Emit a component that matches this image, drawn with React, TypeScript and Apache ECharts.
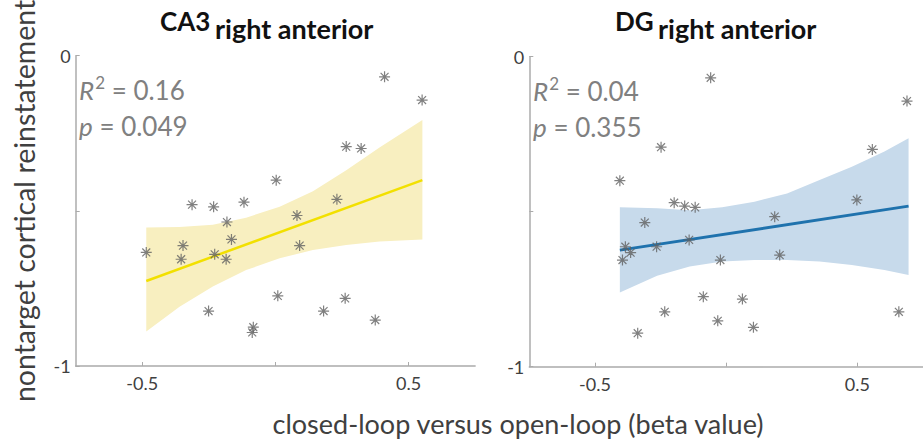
import React, { useEffect, useRef } from "react";
import * as echarts from "echarts";

// ---- data ----
const ca3X = [0.41, 0.551, 0.266, 0.322, 0.003, 0.231, -0.313, -0.232, -0.118, 0.081, -0.182, -0.165, 0.091, -0.347, -0.485, -0.228, -0.354, -0.185, 0.009, 0.262, -0.251, 0.181, 0.375, -0.083, -0.087];
const ca3Y = [-0.068, -0.143, -0.293, -0.299, -0.401, -0.463, -0.48, -0.487, -0.472, -0.515, -0.536, -0.592, -0.612, -0.612, -0.634, -0.64, -0.656, -0.656, -0.774, -0.782, -0.823, -0.823, -0.852, -0.875, -0.892];
const ca3FitX = [-0.485, 0.552];
const ca3FitY = [-0.726, -0.401];
const ca3BandX = [-0.485, -0.36, -0.235, -0.11, 0.016, 0.141, 0.266, 0.391, 0.552];
const ca3Upper = [-0.554, -0.552, -0.545, -0.522, -0.487, -0.437, -0.369, -0.296, -0.207];
const ca3Lower = [-0.889, -0.809, -0.744, -0.691, -0.653, -0.626, -0.61, -0.599, -0.592];

const dgX = [-0.059, 0.689, -0.248, 0.557, -0.405, 0.498, -0.198, -0.158, -0.118, 0.185, -0.31, -0.141, -0.384, -0.265, -0.364, 0.204, -0.395, -0.022, -0.087, 0.062, -0.234, 0.658, -0.032, 0.104, -0.337];
const dgY = [-0.068, -0.143, -0.292, -0.299, -0.4, -0.462, -0.471, -0.482, -0.486, -0.516, -0.535, -0.591, -0.613, -0.613, -0.632, -0.64, -0.656, -0.656, -0.774, -0.782, -0.823, -0.823, -0.852, -0.873, -0.892];
const dgFitX = [-0.405, 0.695];
const dgFitY = [-0.624, -0.482];
const dgBandX = [-0.405, -0.263, -0.139, -0.015, 0.108, 0.232, 0.356, 0.479, 0.603, 0.695];
const dgUpper = [-0.486, -0.489, -0.495, -0.486, -0.468, -0.441, -0.398, -0.355, -0.306, -0.263];
const dgLower = [-0.761, -0.707, -0.677, -0.661, -0.656, -0.656, -0.661, -0.672, -0.688, -0.704];

const xTicks = [-0.5, 0, 0.5];
const xTickLabels = [-0.5, 0.5];
const yTicks = [-1, -0.5, 0];
const yTickLabels = [-1, 0];

const panelTitles = [
  { region: "CA3", rest: "right anterior" },
  { region: "DG", rest: "right anterior" },
];
const stats = [
  { r2: "0.16", p: "0.049" },
  { r2: "0.04", p: "0.355" },
];
const yAxisTitle = "nontarget cortical reinstatement";
const xAxisTitle = "closed-loop versus open-loop (beta value)";

const FONT = "Lato";
const ASTERISK = "path://M0,-5L0,5M-5,0L5,0M-3.6,-3.6L3.6,3.6M-3.6,3.6L3.6,-3.6";

function bandSeries(idx: number, bx: number[], up: number[], lo: number[], fill: string) {
  const data = bx.map((x, i) => [x, up[i], lo[i]]);
  return {
    type: "custom",
    xAxisIndex: idx,
    yAxisIndex: idx,
    z: 1,
    silent: true,
    encode: { x: 0, y: [1, 2] },
    data,
    renderItem: (params: any, api: any) => {
      if (params.dataIndex !== 0) return null;
      const top = data.map((d) => api.coord([d[0], d[1]]));
      const bot = data.map((d) => api.coord([d[0], d[2]])).reverse();
      return {
        type: "polygon",
        shape: { points: top.concat(bot) },
        style: { fill, stroke: "none" },
      };
    },
  };
}

function fitSeries(idx: number, fx: number[], fy: number[], color: string, width: number) {
  return {
    type: "line",
    xAxisIndex: idx,
    yAxisIndex: idx,
    z: 2,
    symbol: "none",
    silent: true,
    data: fx.map((x, i) => [x, fy[i]]),
    lineStyle: { color, width },
  };
}

function scatterSeries(idx: number, xs: number[], ys: number[]) {
  return {
    type: "scatter",
    xAxisIndex: idx,
    yAxisIndex: idx,
    z: 3,
    symbol: ASTERISK,
    symbolSize: 11,
    data: xs.map((x, i) => [x, ys[i]]),
    itemStyle: { color: "rgba(0,0,0,0)", borderColor: "#606060", borderWidth: 1.2 },
  };
}

const axisLineStyle = { color: "#ababab", width: 1.5 };

function makeX(idx: number) {
  return {
    type: "value",
    gridIndex: idx,
    min: -0.75,
    max: 0.75,
    axisLine: { show: true, onZero: false, lineStyle: axisLineStyle },
    axisTick: { show: true, inside: true, length: 4, customValues: xTicks, lineStyle: { color: "#ababab", width: 1 } },
    axisLabel: { customValues: xTickLabels, fontSize: 18, color: "#404040", fontFamily: FONT, margin: 8 },
    splitLine: { show: false },
  };
}

function makeY(idx: number) {
  return {
    type: "value",
    gridIndex: idx,
    min: -1,
    max: 0,
    axisLine: { show: true, onZero: false, lineStyle: axisLineStyle },
    axisTick: { show: true, inside: true, length: 4, customValues: yTicks, lineStyle: { color: "#ababab", width: 1 } },
    axisLabel: { customValues: yTickLabels, fontSize: 18, color: "#404040", fontFamily: FONT, margin: 5 },
    splitLine: { show: false },
  };
}

function statText(x: number, y: number, label: string, sup: string, value: string) {
  return {
    type: "text",
    x,
    y,
    z: 10,
    style: {
      text: sup ? `{i|${label}}{s|${sup}}{n| = ${value}}` : `{i|${label}}{n| = ${value}}`,
      textVerticalAlign: "middle",
      rich: {
        i: { fontFamily: FONT, fontSize: 26, fontStyle: "italic", fill: "#808080", verticalAlign: "bottom", lineHeight: 30 },
        s: { fontFamily: FONT, fontSize: 17, fill: "#808080", verticalAlign: "top", lineHeight: 20, padding: [1, 0, 0, 1] },
        n: { fontFamily: FONT, fontSize: 26, fill: "#808080", verticalAlign: "bottom", lineHeight: 30 },
      },
    },
  };
}

function titleTexts(x1: number, x2: number, t: { region: string; rest: string }) {
  return [
    {
      type: "text",
      x: x1,
      y: 21,
      z: 10,
      style: { text: t.region, fontFamily: FONT, fontSize: 26, fontWeight: "bold", fill: "#111", textVerticalAlign: "middle" },
    },
    {
      type: "text",
      x: x2,
      y: 28,
      z: 10,
      style: { text: t.rest, fontFamily: FONT, fontSize: 27, fontWeight: "bold", fill: "#111", textVerticalAlign: "middle" },
    },
  ];
}

export default function App() {
  const ref = useRef<HTMLDivElement>(null);
  useEffect(() => {
    if (!ref.current) return;
    const chart = echarts.init(ref.current, undefined, { renderer: "svg" });
    chart.setOption({
      animation: false,
      backgroundColor: "#ffffff",
      grid: [
        { left: 75.7, top: 55.7, width: 399.4, height: 310.3 },
        { left: 529.3, top: 56.7, width: 404.6, height: 310 },
      ],
      xAxis: [makeX(0), makeX(1)],
      yAxis: [makeY(0), makeY(1)],
      series: [
        bandSeries(0, ca3BandX, ca3Upper, ca3Lower, "#f8efc0"),
        fitSeries(0, ca3FitX, ca3FitY, "#f2e000", 2.5),
        scatterSeries(0, ca3X, ca3Y),
        bandSeries(1, dgBandX, dgUpper, dgLower, "#c7daeb"),
        fitSeries(1, dgFitX, dgFitY, "#1f72ad", 3),
        scatterSeries(1, dgX, dgY),
      ],
      graphic: [
        ...titleTexts(160, 215, panelTitles[0]),
        ...titleTexts(615, 658, panelTitles[1]),
        statText(79, 88, "R", "2", stats[0].r2),
        statText(79, 124, "p", "", stats[0].p),
        statText(533, 89, "R", "2", stats[1].r2),
        statText(533, 125, "p", "", stats[1].p),
        {
          type: "text",
          x: 24,
          y: 201,
          rotation: Math.PI / 2,
          z: 10,
          style: { text: yAxisTitle, fontFamily: FONT, fontSize: 28.5, fill: "#404040", textAlign: "center", textVerticalAlign: "middle" },
        },
        {
          type: "text",
          x: 518,
          y: 423,
          z: 10,
          style: { text: xAxisTitle, fontFamily: FONT, fontSize: 27, fill: "#404040", textAlign: "center", textVerticalAlign: "middle" },
        },
      ],
    });
    return () => chart.dispose();
  }, []);
  return <div ref={ref} style={{ position: "fixed", left: 0, top: 0, width: 923, height: 441 }} />;
}
